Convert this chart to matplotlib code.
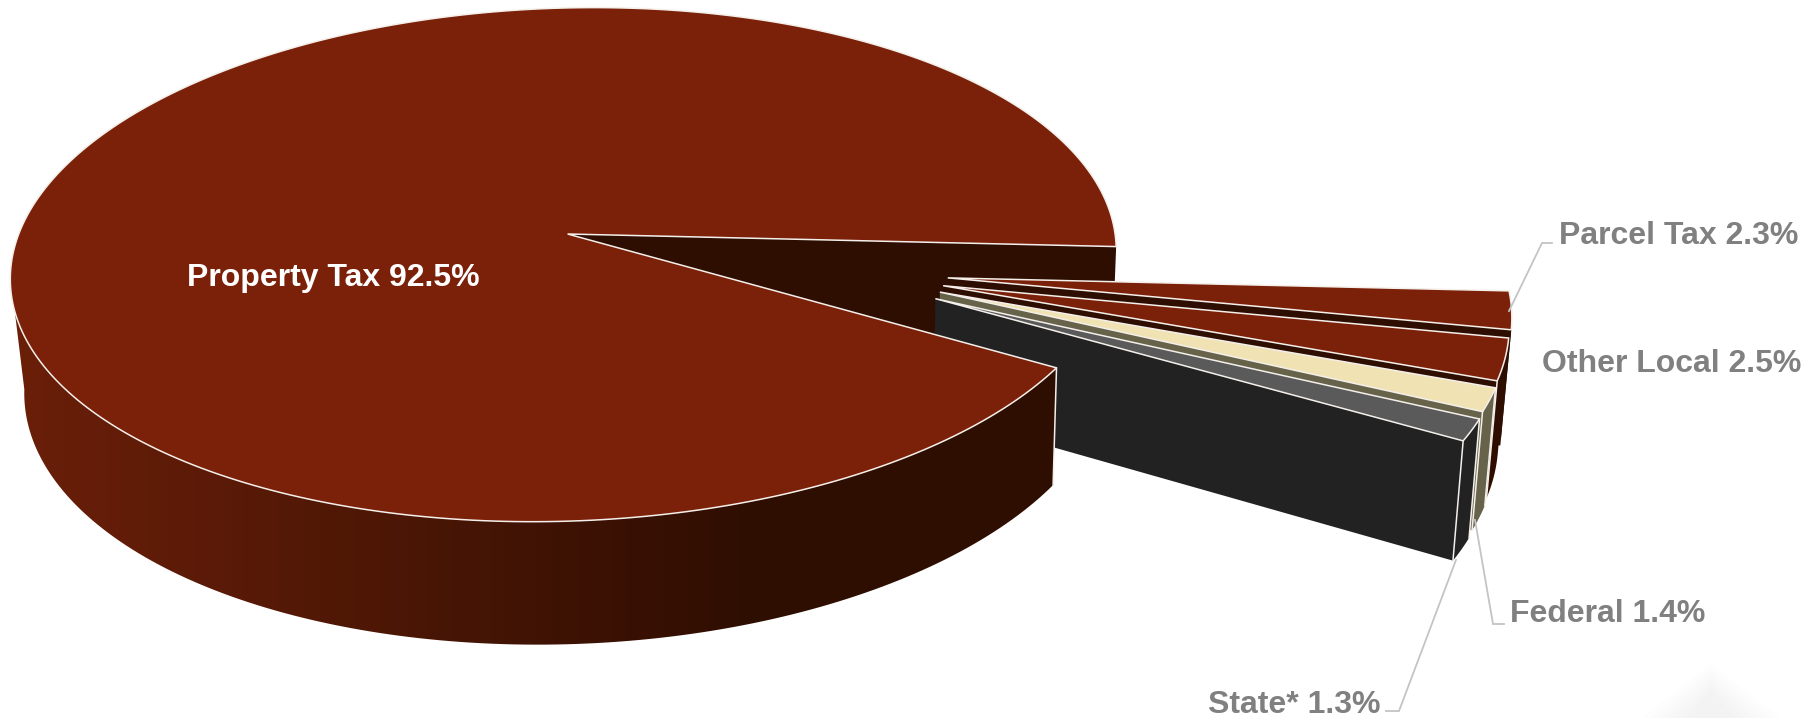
import numpy as np
import matplotlib
matplotlib.use("Agg")
from matplotlib import pyplot as plt
from matplotlib.colors import to_rgb
from matplotlib.patches import Polygon

plt.rcParams["font.family"] = ["Liberation Sans", "DejaVu Sans"]

# shares in percent, in drawing order (clockwise from the start angle)
categories = ["Parcel Tax", "Other Local", "Federal", "State*", "Property Tax"]
shares = [2.3, 2.5, 1.4, 1.3, 92.5]
top_colors = ["#7b2109", "#7b2109", "#f0e2b2", "#5a5a5a", "#7b2109"]
wall_colors = ["#2f0e02", "#2f0e02", "#66634a", "#222222", "#2f0e02"]
# explode offset of each slice: direction in degrees, radius in pie radii
explode_dirs = [17.0, 19.5, 21.5, 23.6, 0.0]
explode_dist = [0.710, 0.709, 0.71, 0.71, 0.0]

START_ANGLE = 6.0
EDGE = "#f4efea"
LABEL_GRAY = "#808080"
LINE_GRAY = "#c4c4c4"
FONT_SIZE = 23

# perspective projection fitted to the picture, in pixels
X0, Y0 = 567.6, 234.0
SX, BY, GX = 549.0, 253.0, -14.0
KY, MX = 0.119, -0.0078
SHRINK, DEPTH, SHIFT = 0.0169, 112.5, 4.7


def project(x, y, bottom=False):
    w = 1 - KY * y - MX * x
    px = SX * x / w
    py = (GX * x + BY * y) / w
    if bottom:
        return X0 + px / (1 + SHRINK) + SHIFT, Y0 + py / (1 + SHRINK) + DEPTH / w
    return X0 + px, Y0 + py


def arc(a1, a2, off, bottom=False):
    n = max(int(abs(a2 - a1)) + 2, 6)
    t = np.radians(np.linspace(a1, a2, n))
    px, py = project(np.cos(t) + off[0], np.sin(t) + off[1], bottom)
    return np.column_stack([px, py])


def point(x, y, bottom=False):
    return np.array(project(x, y, bottom))


def edge_line(ax, p, q):
    ax.plot([p[0], q[0]], [p[1], q[1]], color=EDGE, lw=1.1, zorder=2)


def draw_outer_wall(ax, a1, a2, off, color, gradient=False, corners=True):
    top, low = arc(a1, a2, off), arc(a1, a2, off, True)
    poly = np.vstack([top, low[::-1]])
    if gradient:
        # the big outer wall fades from reddish on the left to the dark shade
        shape = Polygon(poly, closed=True, fc="none", ec="none", transform=ax.transData)
        columns = np.arange(1200)
        ramp = np.clip((columns - 20) / 730, 0, 1)[None, :, None]
        left, right = np.array(to_rgb("#6a1f09")), np.array(to_rgb("#2f0e02"))
        img = ax.imshow(left + (right - left) * ramp, extent=(0, 1200, 718, 0), aspect="auto", zorder=2)
        img.set_clip_path(shape)
    else:
        ax.add_patch(Polygon(poly, closed=True, fc=color, ec="none", zorder=2))
        if corners:
            edge_line(ax, top[0], low[0])


def draw_radial_wall(ax, angle, off, color, corner=True):
    t = np.radians(angle)
    ex, ey = np.cos(t) + off[0], np.sin(t) + off[1]
    quad = [point(off[0], off[1]), point(ex, ey), point(ex, ey, True), point(off[0], off[1], True)]
    ax.add_patch(Polygon(quad, closed=True, fc=color, ec="none", zorder=2))
    if corner:
        edge_line(ax, quad[1], quad[2])


def draw_top(ax, a1, a2, off, color):
    poly = np.vstack([point(off[0], off[1]), arc(a1, a2, off)])
    ax.add_patch(Polygon(poly, closed=True, fc=color, ec=EDGE, lw=1.1, joinstyle="miter", zorder=2))


fig = plt.figure(figsize=(18.16, 7.18), dpi=100)
ax = fig.add_axes([0, 0, 1, 1])
ax.axis("off")

# faint watermark in the corner, built up softly
for k in range(6):
    half = 70 - k * 9
    peak = 664 + k * 5
    ax.add_patch(Polygon([[1711, peak], [1711 + half, 718], [1711 - half, 718]], closed=True,
                         fc="#000000", alpha=0.008, ec="none", zorder=1))

ends = START_ANGLE + np.cumsum(shares) * 3.6
starts = np.concatenate([[START_ANGLE], ends[:-1]])
offsets = []
for d, r in zip(explode_dirs, explode_dist):
    offsets.append((r * np.cos(np.radians(d)), r * np.sin(np.radians(d))))

# back wall of the big slice goes first, the exploded slices sit in front of it
draw_radial_wall(ax, ends[4], offsets[4], wall_colors[4], corner=False)

for i in range(4):
    draw_outer_wall(ax, starts[i], ends[i], offsets[i], wall_colors[i], corners=i >= 2)
    draw_radial_wall(ax, ends[i], offsets[i], wall_colors[i], corner=i >= 1)
    draw_top(ax, starts[i], ends[i], offsets[i], top_colors[i])

# only the part facing the viewer, up to the left extreme of the ellipse
draw_outer_wall(ax, starts[4], 174.0, offsets[4], wall_colors[4], gradient=True)
corner = arc(starts[4], starts[4] + 1, offsets[4])[0]
corner_low = arc(starts[4], starts[4] + 1, offsets[4], True)[0]
edge_line(ax, corner, corner_low)
draw_top(ax, starts[4], ends[4], offsets[4], top_colors[4])

# connector lines
line_paths = [
    ([1509, 1542, 1552], [311, 243, 243]),
    ([1475, 1493, 1504], [520, 624, 624]),
    ([1456, 1399, 1386], [560, 711, 711]),
]
for xs, ys in line_paths:
    ax.plot(xs, ys, color=LINE_GRAY, lw=1.3, solid_joinstyle="miter", zorder=3)

labels = [f"{c} {s}%" for c, s in zip(categories, shares)]
ax.text(1559, 236, labels[0], color=LABEL_GRAY, fontsize=FONT_SIZE, fontweight="bold", va="center", ha="left")
ax.text(1542, 364, labels[1], color=LABEL_GRAY, fontsize=FONT_SIZE, fontweight="bold", va="center", ha="left")
ax.text(1510, 614, labels[2], color=LABEL_GRAY, fontsize=FONT_SIZE, fontweight="bold", va="center", ha="left")
ax.text(1381, 705, labels[3], color=LABEL_GRAY, fontsize=FONT_SIZE, fontweight="bold", va="center", ha="right")
ax.text(333, 278, labels[4], color="white", fontsize=FONT_SIZE, fontweight="bold", va="center", ha="center")

ax.set_xlim(0, 1816)
ax.set_ylim(718, 0)
fig.savefig("out.png", dpi=100)
plt.close()
